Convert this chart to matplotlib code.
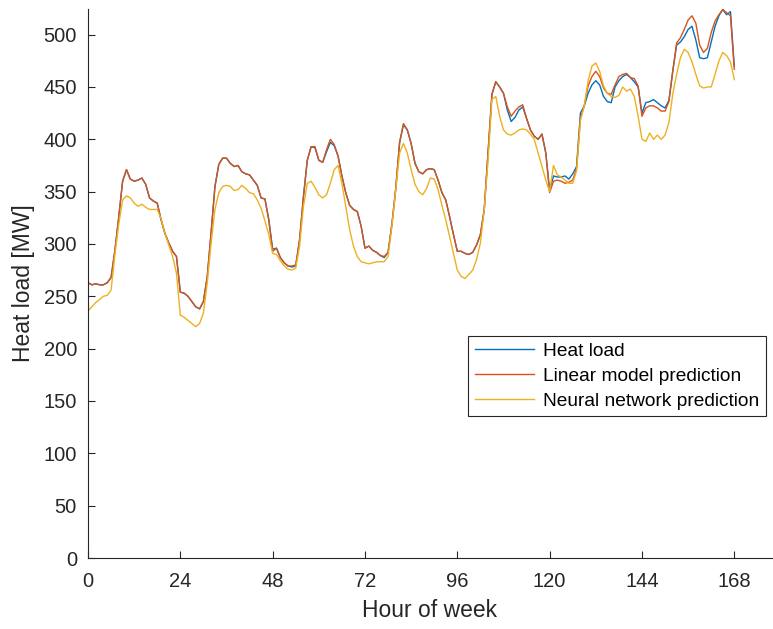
import matplotlib
matplotlib.use("Agg")
import matplotlib.pyplot as plt

# === DATA ===
hours = list(range(169))

heat_load = [
    263, 261, 262, 261, 261, 263, 268, 294, 326, 360, 371, 362, 360, 361, 363, 357,
    344, 341, 339, 323, 310, 301, 293, 288, 254, 253, 250, 245, 240, 238, 245, 269,
    311, 355, 376, 382, 382, 377, 374, 375, 369, 367, 366, 361, 356, 344, 343, 323,
    295, 296, 287, 282, 279, 278, 279, 304, 345, 380, 393, 392, 380, 378, 388, 397,
    394, 384, 365, 349, 337, 333, 331, 317, 296, 298, 294, 292, 289, 287, 292, 319,
    353, 397, 414, 409, 396, 377, 369, 367, 371, 372, 371, 361, 349, 342, 326, 309,
    293, 293, 291, 290, 292, 299, 309, 333, 388, 443, 455, 450, 444, 428, 417, 421,
    428, 431, 420, 409, 403, 400, 405, 387, 351, 365, 364, 364, 365, 362, 367, 374,
    425, 432, 444, 452, 456, 452, 441, 436, 435, 450, 456, 460, 462, 459, 455, 450,
    425, 435, 436, 438, 435, 432, 430, 437, 465, 490, 493, 498, 505, 508, 495, 478,
    477, 478, 493, 508, 518, 524, 519, 522, 470,
]

linear_pred = [
    263, 261, 262, 261, 261, 263, 268, 294, 326, 360, 371, 362, 360, 361, 363, 357,
    344, 341, 339, 323, 310, 301, 293, 288, 254, 253, 250, 245, 240, 238, 245, 269,
    311, 355, 376, 382, 382, 377, 374, 375, 369, 367, 366, 361, 356, 344, 343, 323,
    293, 296, 287, 282, 279, 279, 280, 304, 345, 380, 393, 393, 380, 378, 390, 400,
    395, 384, 365, 349, 337, 333, 331, 317, 296, 298, 294, 292, 289, 288, 292, 319,
    353, 397, 415, 409, 396, 377, 369, 367, 371, 372, 371, 361, 349, 342, 326, 309,
    293, 293, 291, 290, 292, 299, 309, 333, 388, 443, 455, 450, 444, 431, 422, 427,
    431, 433, 420, 409, 403, 400, 405, 387, 349, 360, 361, 360, 358, 359, 361, 372,
    420, 432, 451, 460, 465, 460, 449, 444, 443, 452, 460, 462, 463, 459, 458, 451,
    422, 430, 432, 432, 430, 427, 427, 436, 465, 492, 497, 505, 514, 518, 511, 490,
    483, 487, 502, 513, 519, 524, 521, 518, 467,
]

nn_pred = [
    236, 240, 244, 247, 250, 251, 256, 290, 319, 342, 346, 344, 339, 336, 338, 335,
    333, 333, 333, 324, 310, 299, 288, 272, 232, 230, 227, 224, 221, 224, 234, 263,
    301, 333, 349, 355, 356, 355, 351, 352, 356, 353, 349, 348, 342, 334, 322, 309,
    291, 290, 284, 279, 276, 275, 277, 298, 336, 358, 360, 354, 347, 344, 347, 358,
    371, 375, 358, 336, 314, 298, 288, 283, 282, 281, 282, 283, 283, 283, 288, 317,
    352, 387, 396, 387, 371, 357, 350, 347, 353, 363, 362, 352, 337, 323, 307, 291,
    275, 269, 267, 271, 275, 285, 301, 333, 380, 438, 441, 422, 409, 405, 404, 406,
    409, 410, 409, 405, 400, 387, 374, 361, 350, 375, 366, 364, 361, 358, 358, 370,
    418, 432, 456, 470, 473, 465, 451, 444, 441, 440, 442, 450, 446, 448, 441, 422,
    400, 398, 406, 400, 404, 400, 404, 416, 443, 462, 478, 486, 483, 474, 462, 451,
    449, 450, 450, 462, 475, 483, 480, 474, 457,
]

labels = ["Heat load", "Linear model prediction", "Neural network prediction"]
colors = ["#0072BD", "#D95319", "#EDB120"]  # MATLAB default line colours
x_ticks = [0, 24, 48, 72, 96, 120, 144, 168]


def main():
    plt.rcParams["font.family"] = ["Liberation Sans", "DejaVu Sans"]
    axis_col = "#262626"

    fig = plt.figure(figsize=(7.73, 6.29), dpi=100)
    ax = fig.add_axes([88 / 773, 1 - 558 / 629, (772 - 88) / 773, (558 - 9) / 629])

    for series, lab, col in zip([heat_load, linear_pred, nn_pred], labels, colors):
        ax.plot(hours, series, color=col, lw=1.0, label=lab)

    ax.set_xlim(0, 177.8)
    ax.set_ylim(0, 524.5)
    ax.set_xticks(x_ticks)
    ax.set_yticks(range(0, 501, 50))

    # MATLAB look: box off, ticks pointing inwards
    ax.spines["top"].set_visible(False)
    ax.spines["right"].set_visible(False)
    for side in ["left", "bottom"]:
        ax.spines[side].set_color(axis_col)
        ax.spines[side].set_linewidth(0.8)
    ax.tick_params(direction="in", length=5, width=0.8, colors=axis_col,
                   labelsize=14.5)
    ax.tick_params(axis="x", pad=10)
    ax.tick_params(axis="y", pad=8)

    ax.set_xlabel("Hour of week", fontsize=16.5, color=axis_col, labelpad=6)
    ax.set_ylabel("Heat load [MW]", fontsize=16.5, color=axis_col, labelpad=6)

    leg = ax.legend(loc="upper right", bbox_to_anchor=(766 / 773, 1 - 336 / 629),
                    bbox_transform=fig.transFigure, borderaxespad=0,
                    fontsize=13.8, handlelength=3.1, handletextpad=0.45,
                    labelspacing=0.38, borderpad=0.35, fancybox=False, framealpha=1)
    leg.get_frame().set_edgecolor(axis_col)
    leg.get_frame().set_linewidth(0.8)

    fig.savefig("out.png", dpi=100)


if __name__ == "__main__":
    main()
